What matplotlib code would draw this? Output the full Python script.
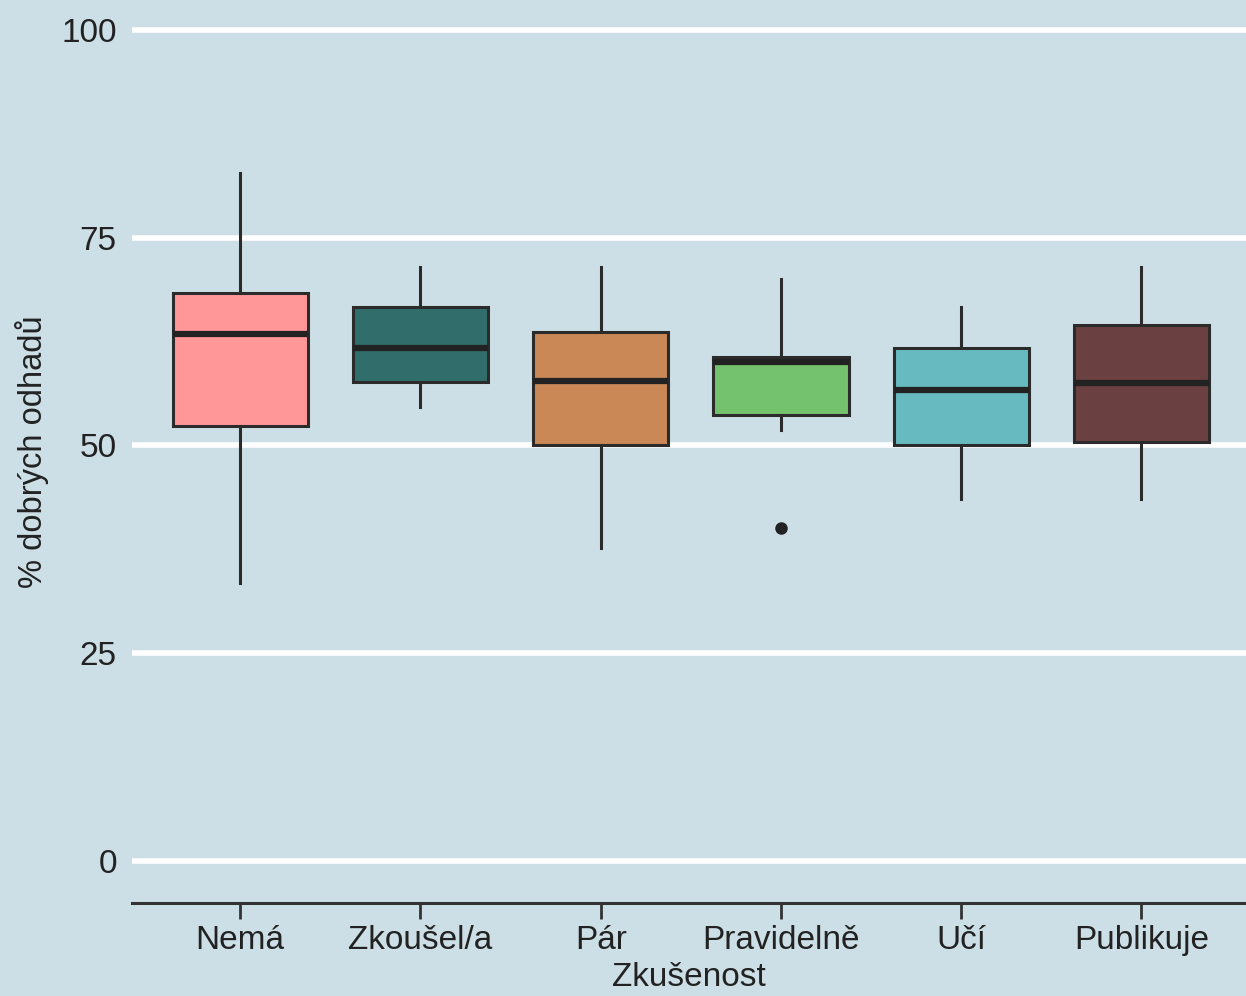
import matplotlib
matplotlib.use("Agg")
import matplotlib.pyplot as plt

# Box statistics per experience group (% correct guesses)
groups   = ["Nemá", "Zkoušel/a", "Pár", "Pravidelně", "Učí", "Publikuje"]
whis_lo  = [33.5, 54.6, 37.7, 51.9, 43.6, 43.6]
q1       = [52.3, 57.6, 50.1, 53.7, 50.1, 50.4]
medians  = [63.4, 61.7, 57.8, 60.0, 56.7, 57.5]
q3       = [68.4, 66.7, 63.7, 60.7, 61.7, 64.5]
whis_hi  = [82.8, 71.5, 71.5, 70.0, 66.7, 71.5]
outliers = [[], [], [], [40.1], [], []]
colors   = ["#FF9698", "#316D6A", "#C98855", "#74C26E", "#66BAC0", "#6B4040"]
y_ticks  = [0, 25, 50, 75, 100]

BG = "#CDDFE6"
FS = 24

plt.rcParams["font.family"] = ["Liberation Sans", "DejaVu Sans"]

fig = plt.figure(figsize=(12.46, 9.96), dpi=100, facecolor=BG)
ax = fig.add_axes([0.106, 0.0934, 0.894, 0.9066])
ax.set_facecolor(BG)

stats = []
for i, name in enumerate(groups):
    stats.append(dict(label=name, whislo=whis_lo[i], q1=q1[i], med=medians[i],
                      q3=q3[i], whishi=whis_hi[i], fliers=outliers[i]))

positions = list(range(1, len(groups) + 1))
bp = ax.bxp(stats, positions=positions, widths=0.75, showcaps=False,
            patch_artist=True,
            boxprops=dict(edgecolor="#2b2b2b", linewidth=2.2),
            medianprops=dict(color="#222222", linewidth=4.5, solid_capstyle="butt"),
            whiskerprops=dict(color="#2b2b2b", linewidth=2.2),
            flierprops=dict(marker="o", markerfacecolor="#222222",
                            markeredgecolor="#222222", markersize=8))
for patch, c in zip(bp["boxes"], colors):
    patch.set_facecolor(c)

# white horizontal grid
ax.set_yticks(y_ticks)
ax.yaxis.grid(True, color="white", linewidth=4)
ax.set_axisbelow(True)

ax.set_xlim(0.4, 6.58)
ax.set_ylim(-5.05, 103.6)

for side in ["top", "right", "left"]:
    ax.spines[side].set_visible(False)
ax.spines["bottom"].set_color("#333333")
ax.spines["bottom"].set_linewidth(2.2)

ax.tick_params(axis="y", length=0, pad=11, labelsize=FS, labelcolor="#222222")
ax.tick_params(axis="x", length=11.5, width=2, color="#333333", pad=4,
               labelsize=FS, labelcolor="#222222")

ax.set_xlabel("Zkušenost", fontsize=FS, color="#222222", labelpad=5)
ax.set_ylabel("% dobrých odhadů", fontsize=23.5, color="#222222", labelpad=9)

fig.savefig("out.png", dpi=100, facecolor=BG)
